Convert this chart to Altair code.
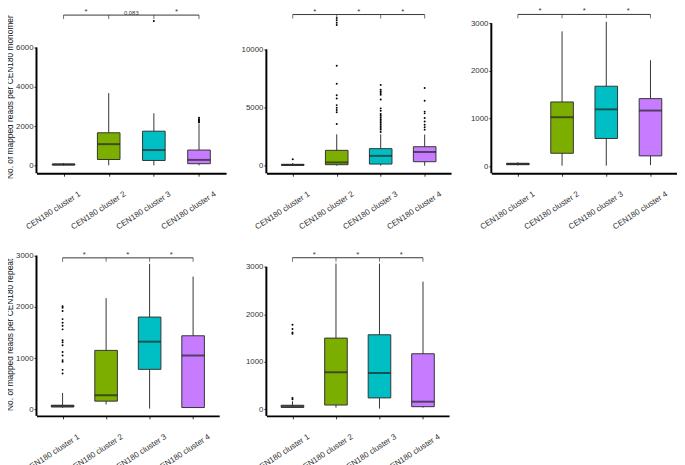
import altair as alt
import pandas as pd

CLUSTERS = ["CEN180 cluster 1", "CEN180 cluster 2", "CEN180 cluster 3", "CEN180 cluster 4"]
COLORS = ["#a6a6a6", "#7CAE00", "#00BFC4", "#C77CFF"]

# Panel A: reads per CEN180 monomer
A_lower = [0, 0, 0, 0]
A_q1 = [20, 300, 250, 85]
A_med = [45, 1080, 780, 280]
A_q3 = [70, 1660, 1740, 780]
A_upper = [120, 3680, 2650, 2100]
A_out = [[], [], [7350], [2180, 2250, 2300, 2350, 2420]]
A_ticks = [0, 2000, 4000, 6000]
A_bracket = 7650
A_labels = ["*", "0.083", "*"]

# Panel B: reads per CEN180 monomer
B_lower = [0, 0, 0, 0]
B_q1 = [30, 85, 140, 340]
B_med = [70, 280, 845, 1180]
B_q3 = [110, 1320, 1465, 1630]
B_upper = [230, 2700, 2700, 2680]
B_out = [
    [560],
    [3580, 4590, 4790, 4990, 5210, 5780, 6060, 7040, 8590, 12100, 12300, 12500, 12700],
    [2900, 3100, 3250, 3400, 3550, 3700, 3850, 4000, 4150, 4300, 4450, 4730, 4930,
     5690, 6100, 6250, 6390, 6530, 6950],
    [3100, 3300, 3520, 3800, 4100, 4500, 4650, 5580, 6680],
]
B_ticks = [0, 5000, 10000]
B_bracket = 13000
B_labels = ["*", "*", "*"]

# Panel C: reads per CEN180 monomer
C_lower = [20, 15, 15, 25]
C_q1 = [35, 275, 585, 220]
C_med = [50, 1030, 1195, 1170]
C_q3 = [65, 1350, 1680, 1420]
C_upper = [85, 2830, 3030, 2225]
C_out = [[], [], [], []]
C_ticks = [0, 1000, 2000, 3000]
C_bracket = 3185
C_labels = ["*", "*", "*"]

# Panel D: reads per CEN180 repeat
D_lower = [30, 95, 15, 30]
D_q1 = [45, 160, 780, 35]
D_med = [65, 275, 1320, 1050]
D_q3 = [80, 1150, 1800, 1435]
D_upper = [320, 2170, 2840, 2590]
D_out = [[700, 770, 930, 960, 1050, 1120, 1250, 1310, 1350, 1560, 1630, 1690, 1760, 1920, 1980, 2010],
         [], [], []]
D_ticks = [0, 1000, 2000, 3000]
D_bracket = 2955
D_labels = ["*", "*", "*"]

# Panel E: reads per CEN180 repeat
E_lower = [30, 35, 15, 35]
E_q1 = [40, 90, 240, 55]
E_med = [60, 780, 765, 160]
E_q3 = [85, 1500, 1570, 1170]
E_upper = [170, 3070, 3070, 2690]
E_out = [[210, 240, 1590, 1620, 1690, 1780], [], [], []]
E_ticks = [0, 1000, 2000, 3000]
E_bracket = 3193
E_labels = ["*", "*", "*"]

TITLE_MONO = "No. of  mapped  reads per CEN180  monomer"
TITLE_REP = "No. of  mapped  reads per CEN180  repeat"

PAD = 0.6
BOX = 23


def panel(lower, q1, med, q3, upper, outs, ticks, bracket, labels, ydom, w, h, title, title_y):
    stats = pd.DataFrame({"cluster": CLUSTERS, "lower": lower, "q1": q1,
                          "median": med, "q3": q3, "upper": upper})
    rows = [(CLUSTERS[i], v) for i, lst in enumerate(outs) for v in lst]
    out_df = pd.DataFrame(rows, columns=["cluster", "value"])
    br_df = pd.DataFrame({"cluster": [CLUSTERS[0]], "cend": [CLUSTERS[-1]], "y": [bracket]})
    brt_df = pd.DataFrame({"cluster": CLUSTERS, "y": [bracket] * 4})
    star_df = pd.DataFrame({"cluster": CLUSTERS[:3], "y": [bracket] * 3, "lab": labels})
    ax_df = pd.DataFrame({"y0": [ydom[0]], "y1": [ticks[-1]]})

    step = w / (3 + 2 * PAD)
    xscale = alt.Scale(type="point", domain=CLUSTERS, padding=PAD)
    xaxis = alt.Axis(title=None, labelAngle=-33, labelAlign="right", labelBaseline="top",
                     labelOffset=14, labelPadding=14, tickSize=3, domainWidth=2,
                     domainColor="#000", labelFontSize=8.2)
    X = lambda f: alt.X(f"{f}:N", scale=xscale, axis=xaxis)
    yscale = alt.Scale(domain=ydom, nice=False, zero=False)
    yax = dict(values=ticks, domain=False, grid=False, title=title, tickSize=2.5,
               labelPadding=1, titlePadding=1, format="d")
    if title_y is not None:
        yax["titleY"] = title_y
    yaxis = alt.Axis(**yax)
    Y = lambda f: alt.Y(f"{f}:Q", scale=yscale, axis=yaxis)
    col = alt.Color("cluster:N", scale=alt.Scale(domain=CLUSTERS, range=COLORS), legend=None)

    layers = []
    layers.append(alt.Chart(stats).mark_rule(color="#333", strokeWidth=1).encode(
        x=X("cluster"), y=Y("lower"), y2="upper"))
    layers.append(alt.Chart(stats).mark_bar(size=BOX, stroke="#333", strokeWidth=1).encode(
        x=X("cluster"), y=Y("q1"), y2="q3", fill=col))
    layers.append(alt.Chart(stats).mark_tick(orient="horizontal", size=BOX, thickness=2,
                                             color="#222").encode(
        x=X("cluster"), y=Y("median")))
    if len(out_df):
        layers.append(alt.Chart(out_df).mark_circle(size=4, color="#000", opacity=1).encode(
            x=X("cluster"), y=Y("value")))
    layers.append(alt.Chart(ax_df).mark_rule(color="#000", strokeWidth=2).encode(
        x=alt.value(0), y=Y("y0"), y2="y1"))
    layers.append(alt.Chart(br_df).mark_rule(color="#333", strokeWidth=1).encode(
        x=X("cluster"), x2="cend", y=Y("y")))
    layers.append(alt.Chart(brt_df).mark_tick(orient="vertical", size=4, thickness=1,
                                              color="#333", yOffset=2).encode(
        x=X("cluster"), y=Y("y")))
    layers.append(alt.Chart(star_df).mark_text(dx=step / 2, dy=1, baseline="bottom",
                                               font="Liberation Sans", color="#333").encode(
        x=X("cluster"), y=Y("y"), text="lab:N",
        size=alt.condition(alt.datum.lab == "*", alt.value(8), alt.value(6))))
    return alt.layer(*layers).properties(width=w, height=h)


H1, H2 = 164, 175
p1 = panel(A_lower, A_q1, A_med, A_q3, A_upper, A_out, A_ticks, A_bracket, A_labels,
           [-400, 7800], 193, H1, TITLE_MONO, 86)
p2 = panel(B_lower, B_q1, B_med, B_q3, B_upper, B_out, B_ticks, B_bracket, B_labels,
           [-650, 13207], 188, H1, None, None)
p3 = panel(C_lower, C_q1, C_med, C_q3, C_upper, C_out, C_ticks, C_bracket, C_labels,
           [-144, 3233], 189, H1, None, None)
p4 = panel(D_lower, D_q1, D_med, D_q3, D_upper, D_out, D_ticks, D_bracket, D_labels,
           [-128, 3226], 186, H2, TITLE_REP, 92)
p5 = panel(E_lower, E_q1, E_med, E_q3, E_upper, E_out, E_ticks, E_bracket, E_labels,
           [-139, 3483], 186, H2, None, None)

chart = alt.concat(p1, p2, p3, p4, p5, columns=3, spacing={"row": 72, "column": 41},
                   bounds="flush").properties(
    padding={"top": -5, "left": -3, "right": 0, "bottom": 0}
).configure_view(stroke=None).configure_axis(
    labelFont="Liberation Sans", titleFont="Liberation Sans", labelFontSize=8,
    labelColor="#333", tickColor="#333", titleFontSize=8.5, titleFontWeight="normal",
    titleColor="#111"
)

chart.save("out.html", embed_options={"renderer": "svg", "actions": False})
